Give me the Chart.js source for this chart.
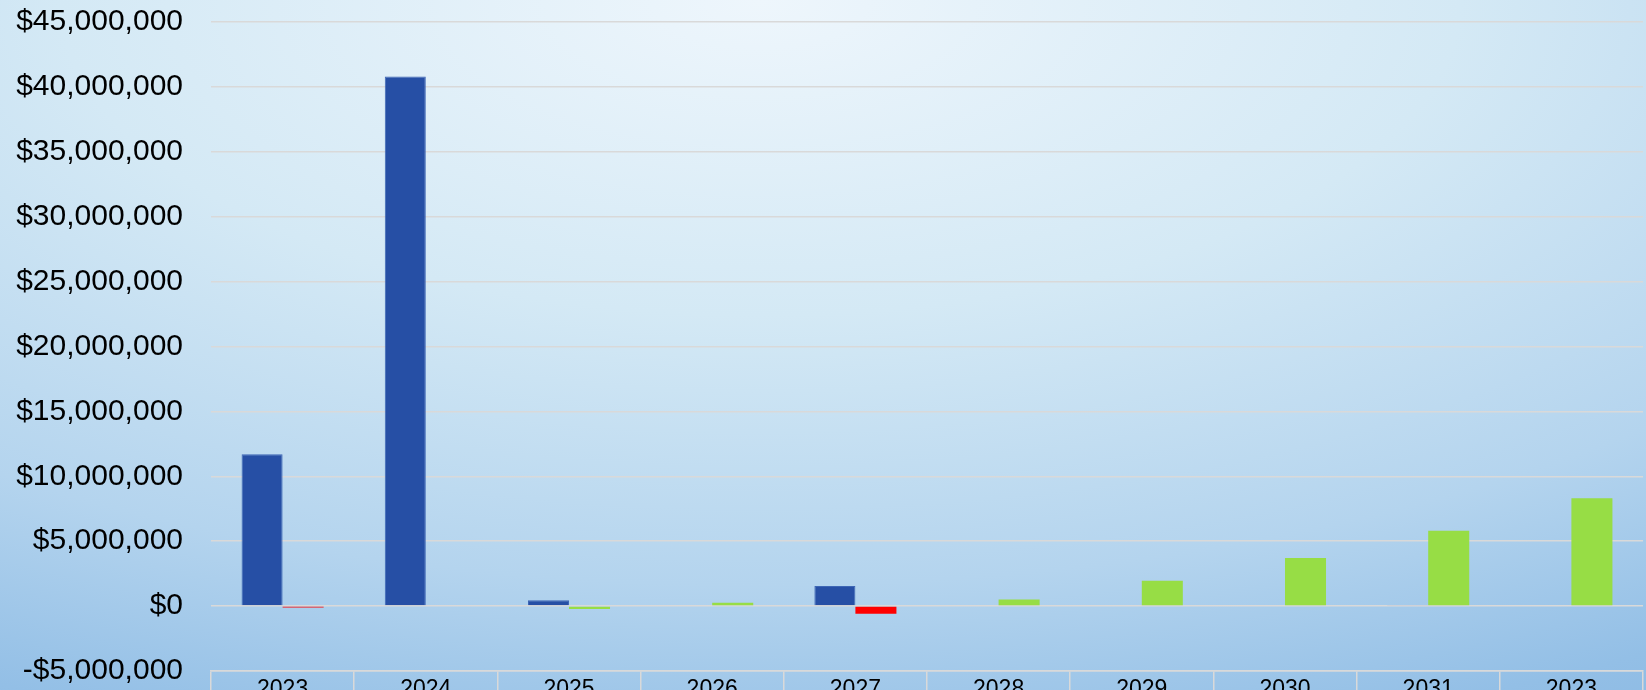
<!DOCTYPE html>
<html>
<head>
<meta charset="utf-8">
<script src="https://cdn.jsdelivr.net/npm/chart.js@4/dist/chart.umd.min.js"></script>
<style>
  html, body { margin: 0; padding: 0; overflow: hidden; height: 690px; width: 1646px; }
  #wrap { width: 1646px; height: 690px; overflow: hidden; }
</style>
</head>
<body>
<div id="wrap"><canvas id="grafico" width="1646" height="720"></canvas></div>
<script>
// datos del grafico
const anios = ['2023', '2024', '2025', '2026', '2027', '2028', '2029', '2030', '2031', '2023'];
const serieAzul = [11700000, 40800000, 450000, 0, 1550000, 0, 0, 0, 90000, 0];
const serieDos = [-100000, 0, -220000, 250000, -580000, 500000, 1950000, 3700000, 5800000, 8300000];
const coloresDos = ['#ff0000', '#97dd45', '#97dd45', '#97dd45', '#ff0000', '#97dd45', '#97dd45', '#97dd45', '#97dd45', '#97dd45'];
const ticksY = { min: -5000000, max: 45000000, step: 5000000 };

// fondo degradado
const fondo = {
	id: 'fondo',
	beforeDraw: function (chart) {
		const ctx = chart.ctx;
		const cx = 760, sx = 2000 / 900;
		ctx.save();
		ctx.setTransform(sx, 0, 0, 1, cx, 0);
		const g = ctx.createRadialGradient(0, 0, 0, 0, 0, 900);
		g.addColorStop(0, '#eef6fc');
		g.addColorStop(0.35, '#d4e9f5');
		g.addColorStop(0.65, '#b4d4ee');
		g.addColorStop(0.85, '#93bfe6');
		g.addColorStop(1, '#86b5e1');
		ctx.fillStyle = g;
		ctx.fillRect(-cx / sx, 0, chart.width / sx, chart.height);
		ctx.restore();
	}
};

function dinero(v) {
	const s = Math.abs(v).toLocaleString('en-US');
	return (v < 0 ? '-$' : '$') + s;
}

const config = {
	type: 'bar',
	data: {
		labels: anios,
		datasets: [
			{
				label: 'Serie 1',
				data: serieAzul,
				backgroundColor: '#264fa5',
				borderColor: '#3d66b5',
				borderWidth: 1,
			},
			{
				label: 'Serie 2',
				data: serieDos,
				backgroundColor: coloresDos,
				borderWidth: 0,
			},
		],
	},
	options: {
		responsive: false,
		animation: false,
		categoryPercentage: 0.573,
		barPercentage: 1,
		layout: { padding: { top: 22, right: 3, left: 0, bottom: 0 } },
		plugins: { legend: { display: false }, tooltip: { enabled: false } },
		scales: {
			x: {
				grid: { drawOnChartArea: false, drawTicks: true, tickLength: 45, color: '#d9d9d9', lineWidth: 1.5 },
				border: { display: true, color: '#d9d9d9', width: 1.5 },
				ticks: { color: '#000', padding: -40, font: { family: 'Liberation Sans, Arial', size: 23 } },
				afterFit: function (s) { s.height = 49; s.paddingTop = 0; s.paddingBottom = 0; },
			},
			y: {
				min: ticksY.min,
				max: ticksY.max,
				ticks: {
					stepSize: ticksY.step,
					color: '#000',
					padding: 28,
					font: { family: 'Liberation Sans, Arial', size: 30 },
					callback: function (v) { return dinero(v); },
				},
				grid: { color: '#d9d9d9', lineWidth: 1.5, drawTicks: false },
				border: { display: false },
				afterFit: function (s) { s.width = 211; s.paddingTop = 0; s.paddingBottom = 0; },
			},
		},
	},
	plugins: [fondo],
};

const grafico = new Chart(document.getElementById('grafico'), config);
</script>
</body>
</html>
